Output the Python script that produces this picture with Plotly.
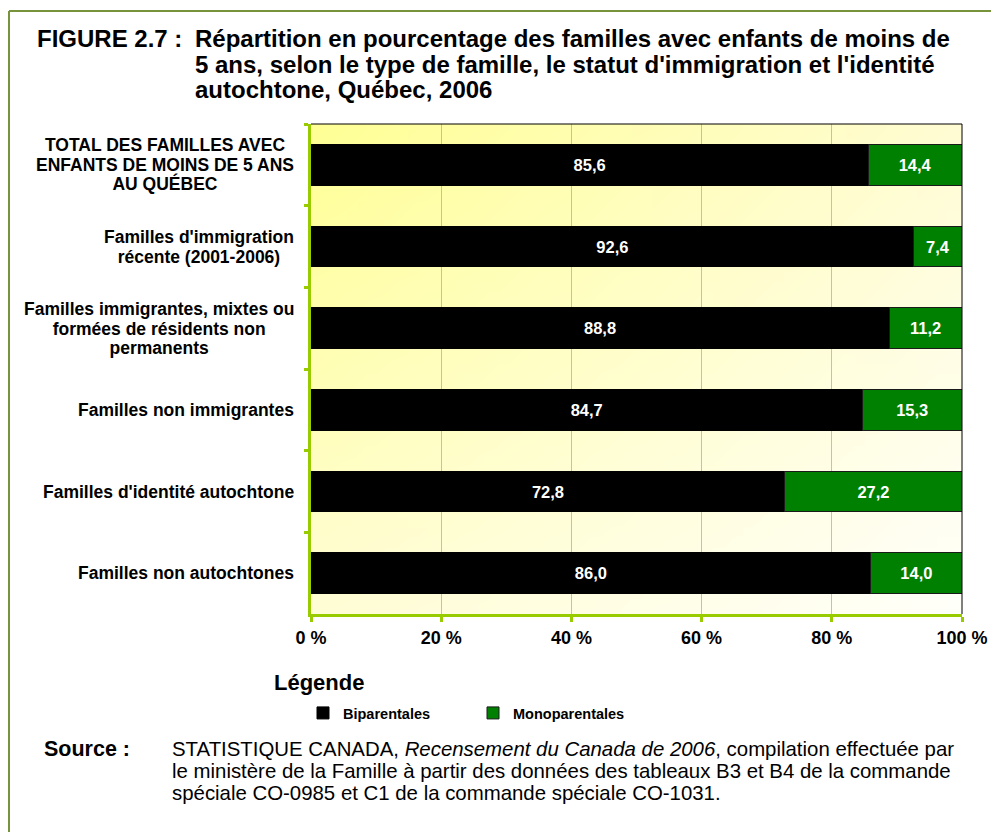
import base64, struct, zlib
import plotly.graph_objects as go

# ---------------- data ----------------
categories = [
    "TOTAL DES FAMILLES AVEC<br>ENFANTS DE MOINS DE 5 ANS<br>AU QUÉBEC",
    "Familles d'immigration<br>récente (2001-2006)",
    "Familles immigrantes, mixtes ou<br>formées de résidents non<br>permanents",
    "Familles non immigrantes",
    "Familles d'identité autochtone",
    "Familles non autochtones",
]
biparentales = [85.6, 92.6, 88.8, 84.7, 72.8, 86.0]
monoparentales = [14.4, 7.4, 11.2, 15.3, 27.2, 14.0]
series_names = ["Biparentales", "Monoparentales"]
x_tick_values = [0, 20, 40, 60, 80, 100]
x_tick_labels = ["0 %", "20 %", "40 %", "60 %", "80 %", "100 %"]

# ---------------- geometry helpers (page coords; body has 8px margin) ----------------
OFF = 8
W, H = 999 - OFF, 832 - OFF
PL, PR, PT, PB = 311, 962, 124, 614   # page coords of plot area
def px(x):
    return (x - PL) / (PR - PL)
def py(y):
    return (PB - y) / (PB - PT)

FONT = "Liberation Sans, Arial, sans-serif"
GREEN_AX = "#99cc00"
FRAME = "#77933c"

# ---------------- gradient background image (style only) ----------------
def gradient_png(w, h, tl, tr, bl, br):
    rows = []
    for j in range(h):
        v = j / (h - 1)
        row = bytearray([0])
        for i in range(w):
            u = i / (w - 1)
            c = [round((1-u)*(1-v)*tl[k] + u*(1-v)*tr[k] + (1-u)*v*bl[k] + u*v*br[k]) for k in range(3)]
            row.extend(c)
        rows.append(bytes(row))
    raw = b"".join(rows)
    def chunk(t, d):
        c = struct.pack(">I", len(d)) + t + d
        return c + struct.pack(">I", zlib.crc32(t + d) & 0xffffffff)
    png = b"\x89PNG\r\n\x1a\n" + chunk(b"IHDR", struct.pack(">IIBBBBB", w, h, 8, 2, 0, 0, 0)) \
        + chunk(b"IDAT", zlib.compress(raw, 9)) + chunk(b"IEND", b"")
    return "data:image/png;base64," + base64.b64encode(png).decode()

bg_src = gradient_png(64, 48, (255, 255, 150), (255, 252, 212), (255, 253, 212), (255, 255, 250))

fig = go.Figure()
for vals, name, col, lc in [(biparentales, series_names[0], "#000000", "#000000"),
                            (monoparentales, series_names[1], "#008000", "#1a1a1a")]:
    fig.add_trace(go.Bar(
        y=categories, x=vals, name=name, orientation="h",
        marker=dict(color=col, line=dict(color=lc, width=1)),
        texttemplate="%{x:.1f}", textposition="inside", insidetextanchor="middle",
        textfont=dict(color="white", size=16.5, family=FONT, weight="bold"),
        constraintext="none",
    ))

annotations = []
# category labels: base font 15px gives ~19.5px line spacing, glyphs drawn at 17.5px
for c in categories:
    lines = c.split("<br>")
    txt = "<br>".join("<span style='font-size:17.5px'>" + l + "</span>" for l in lines)
    annotations.append(dict(
        x=px(296), xref="paper", y=c, yref="y", text=txt, showarrow=False,
        xanchor="right", yanchor="middle", align="center",
        font=dict(family=FONT, size=15, color="#000000", weight="bold"),
    ))

# title
annotations.append(dict(
    x=px(35), xref="paper", y=py(39), yref="paper", text="FIGURE 2.7 :",
    showarrow=False, xanchor="left", yanchor="middle",
    font=dict(family=FONT, size=24, color="#000000", weight="bold"),
))
title_lines = ["Répartition en pourcentage des familles avec enfants de moins de",
               "5 ans, selon le type de famille, le statut d'immigration et l'identité",
               "autochtone, Québec, 2006"]
for i, t in enumerate(title_lines):
    annotations.append(dict(
        x=px(193), xref="paper", y=py(39 + 25 * i), yref="paper", text=t,
        showarrow=False, xanchor="left", yanchor="middle", align="left",
        font=dict(family=FONT, size=24, color="#000000", weight="bold"),
    ))
# legend heading
annotations.append(dict(
    x=px(272), xref="paper", y=py(682), yref="paper", text="Légende",
    showarrow=False, xanchor="left", yanchor="middle",
    font=dict(family=FONT, size=22, color="#000000", weight="bold"),
))
# source
annotations.append(dict(
    x=px(42), xref="paper", y=py(749), yref="paper", text="Source :",
    showarrow=False, xanchor="left", yanchor="middle",
    font=dict(family=FONT, size=21.5, color="#000000", weight="bold"),
))
source_lines = ["STATISTIQUE CANADA, <i>Recensement du Canada de 2006</i>, compilation effectuée par",
                "le ministère de la Famille à partir des données des tableaux B3 et B4 de la commande",
                "spéciale CO-0985 et C1 de la commande spéciale CO-1031."]
for i, t in enumerate(source_lines):
    annotations.append(dict(
        x=px(170), xref="paper", y=py(749 + 22 * i), yref="paper", text=t,
        showarrow=False, xanchor="left", yanchor="middle", align="left",
        font=dict(family=FONT, size=20.4, color="#000000"),
    ))

shapes = [
    # outer frame (left + top)
    dict(type="line", xref="paper", yref="paper", x0=px(9), x1=px(9), y0=py(11), y1=py(845),
         line=dict(color=FRAME, width=2)),
    dict(type="line", xref="paper", yref="paper", x0=px(9), x1=px(1010), y0=py(11), y1=py(11),
         line=dict(color=FRAME, width=2)),
    # plot border top & right (thin dark)
    dict(type="line", xref="paper", yref="paper", x0=0, x1=1, y0=1, y1=1,
         line=dict(color="#000000", width=1)),
    dict(type="line", xref="paper", yref="paper", x0=1, x1=1, y0=0, y1=1,
         line=dict(color="#000000", width=1)),
]

fig.update_layout(
    width=W, height=H,
    margin=dict(l=PL - OFF, r=W - (PR - OFF), t=PT - OFF, b=H - (PB - OFF), pad=0),
    paper_bgcolor="white", plot_bgcolor="rgba(0,0,0,0)",
    barmode="stack", bargap=0.5,
    separators=", ",
    font=dict(family=FONT, color="#000000"),
    showlegend=True,
    legend=dict(orientation="h", x=px(303), y=py(713), xanchor="left", yanchor="middle",
                xref="paper", yref="paper",
                font=dict(family=FONT, size=14.5, color="#000000", weight="bold"),
                entrywidth=125, entrywidthmode="pixels", itemwidth=30,
                bgcolor="rgba(0,0,0,0)", traceorder="normal"),
    annotations=annotations,
    shapes=shapes,
    images=[dict(source=bg_src, xref="paper", yref="paper", x=0, y=1, sizex=1, sizey=1,
                 xanchor="left", yanchor="top", sizing="stretch", layer="below")],
)
fig.update_xaxes(
    range=[0, 100], tickmode="array", tickvals=x_tick_values, ticktext=x_tick_labels,
    showgrid=True, gridcolor="#c0c0c0", gridwidth=1,
    showline=True, linecolor=GREEN_AX, linewidth=3,
    ticks="outside", ticklen=5, tickwidth=3, tickcolor=GREEN_AX,
    tickfont=dict(family=FONT, size=18, color="#000000", weight="bold"),
    zeroline=False, fixedrange=True,
)
fig.update_yaxes(
    autorange="reversed", showticklabels=False,
    showline=True, linecolor=GREEN_AX, linewidth=3,
    ticks="outside", tickson="boundaries", ticklen=4, tickwidth=3, tickcolor=GREEN_AX,
    showgrid=False, fixedrange=True,
)

fig.write_html("out.html")
